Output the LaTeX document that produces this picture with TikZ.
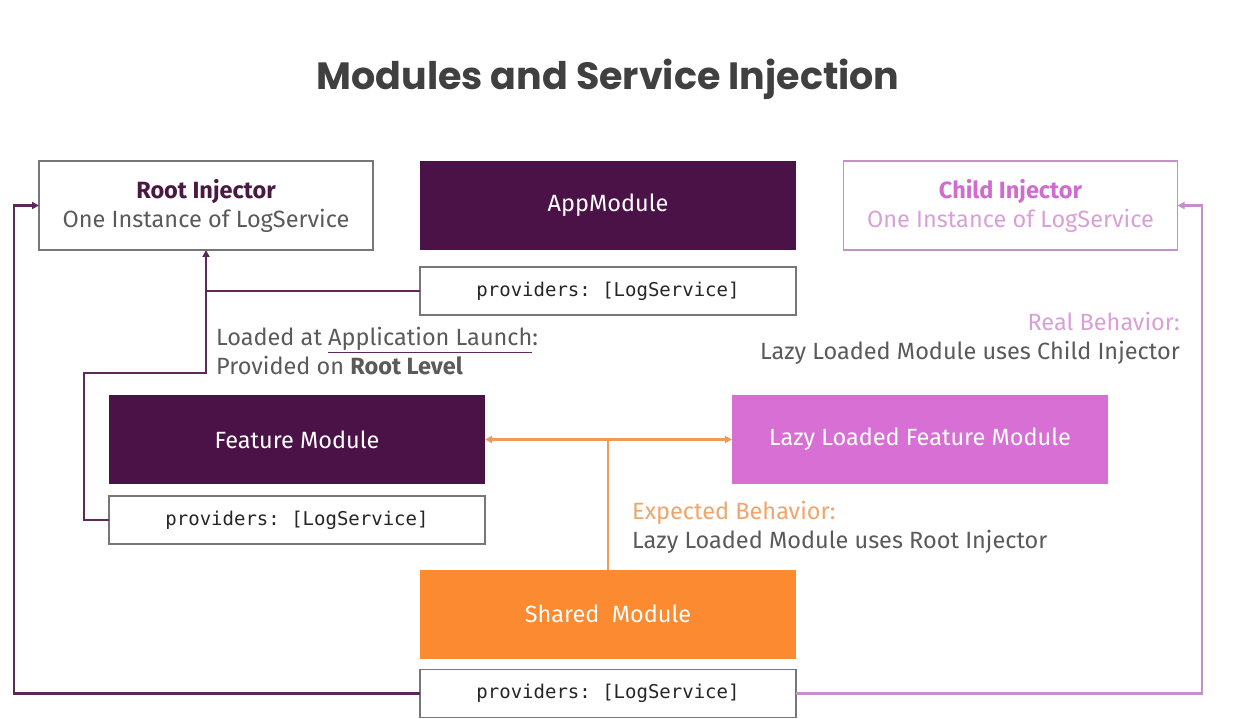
\documentclass[tikz,border=0pt]{standalone}
\usepackage{fontspec}
\setmainfont{Fira Sans}
\newfontfamily\titlefont{Poppins}
\setmonofont{DejaVu Sans Mono}
\usetikzlibrary{arrows.meta,calc}
\definecolor{dpurple}{HTML}{4B1248}
\definecolor{rootcol}{HTML}{4A1942}
\definecolor{lnpurple}{HTML}{5C2A58}
\definecolor{pinkfill}{HTML}{D76FD5}
\definecolor{pinkline}{HTML}{C68FCC}
\definecolor{pinktitle}{HTML}{D06CCF}
\definecolor{pinktext}{HTML}{D9A0D8}
\definecolor{orfill}{HTML}{FB8A30}
\definecolor{orline}{HTML}{F29A55}
\definecolor{ortext}{HTML}{F2A56A}
\definecolor{graytext}{HTML}{5A5A5A}
\definecolor{boxline}{HTML}{777777}
\begin{document}
\begin{tikzpicture}[x=1pt,y=-1pt,
  box/.style={rectangle,inner sep=0pt,outer sep=0pt,minimum width=376pt,minimum height=89pt,font=\fontsize{23.5}{28}\selectfont},
  darkbox/.style={box,fill=dpurple,text=white},
  provbox/.style={rectangle,inner sep=0pt,outer sep=0pt,minimum width=376pt,minimum height=48pt,draw=boxline,line width=1.2pt,font=\ttfamily\fontsize{19}{22}\selectfont,text=black!85},
  injbox/.style={rectangle,inner sep=0pt,outer sep=0pt,minimum width=334pt,minimum height=89pt,line width=1.2pt,align=center,font=\fontsize{23.5}{29}\selectfont},
  lbl/.style={inner sep=0pt,font=\fontsize{23.5}{29}\selectfont,text=graytext},
  tip/.style={-{Triangle[length=7pt,width=7pt]}},
  pline/.style={draw=lnpurple,line width=2.2pt},
]
\useasboundingbox (0,0) rectangle (1248,719);
\fill[white] (0,0) rectangle (1248,719);

\node[inner sep=0pt,text=black!75,font=\titlefont\bfseries\fontsize{38}{44}\selectfont] (title) at (608,79) {Modules and Service Injection};

\node[injbox,draw=boxline] (root) at (206,205.5) {\textcolor{rootcol}{\bfseries Root Injector}\\\textcolor{graytext}{One Instance of LogService}};
\node[injbox,draw=pinkline] (child) at (1010.5,205.5) {\textcolor{pinktitle}{\bfseries Child Injector}\\\textcolor{pinktext}{One Instance of LogService}};

\node[darkbox] (app) at (608,205.5) {AppModule};
\node[provbox] (p1) at (608,291) {providers: [LogService]};

\node[darkbox] (feat) at (297,439.5) {Feature Module};
\node[provbox] (p2) at (297,520) {providers: [LogService]};

\node[box,fill=pinkfill,text=white] (lazy) at (920,439.5) {Lazy Loaded Feature Module};

\node[box,fill=orfill,text=white] (shared) at (608,614) {Shared\ \ Module};
\node[provbox] (p3) at (608,693.5) {providers: [LogService]};

\node[lbl,anchor=west,align=left] (loaded) at (216,351.5) {Loaded at \textcolor{lnpurple}{\underline{\textcolor{graytext}{Application Launch}}}:\\Provided on \textbf{Root Level}};
\node[lbl,anchor=east,align=right] (real) at (1180,338.5) {\textcolor{pinktext}{Real Behavior:}\\Lazy Loaded Module uses Child Injector};
\node[lbl,anchor=west,align=left] (expected) at (632,527.5) {\textcolor{ortext}{Expected Behavior:}\\Lazy Loaded Module uses Root Injector};

% purple connectors
\coordinate (lc) at (14,205.5);
\coordinate (jn) at (206,373);
\draw[pline] (p1.west) -- (p1.west -| root.south);
\draw[pline,tip] (p2.west) -- ++(-25,0) |- (jn) -- (root.south);
\draw[pline,tip] (p3.west) -| (lc) -- (root.west);
% pink connector
\coordinate (rc) at (1202,205.5);
\draw[draw=pinkline,line width=2.2pt,tip] (p3.east) -| (rc) -- (child.east);
% orange connectors
\draw[draw=orline,line width=2.2pt] (shared.north) -- (shared.north |- feat.east);
\draw[draw=orline,line width=2.2pt,{Triangle[length=7pt,width=7pt]}-{Triangle[length=7pt,width=7pt]}] (feat.east) -- (lazy.west);
\end{tikzpicture}
\end{document}
